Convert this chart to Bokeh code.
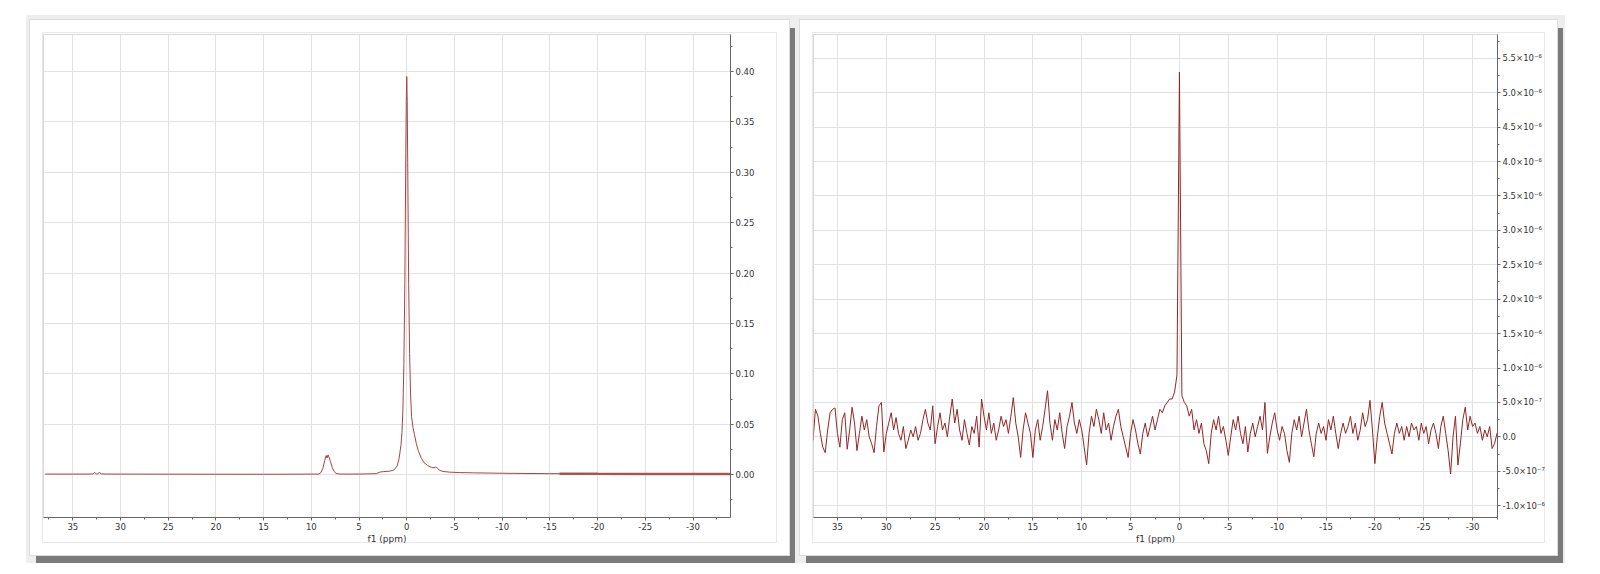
import numpy as np
from bokeh.plotting import figure
from bokeh.models import Range1d, FixedTicker, CustomJSTickFormatter, Row
from bokeh.embed import file_html
from bokeh.resources import INLINE

# ---------------- data ----------------
# Left spectrum (f1 ppm, intensity)
left_ppm = [37.9, 33.5, 32.9, 32.7, 32.55, 32.4, 32.2, 32.0, 31.5, 25.0, 15.0,
            9.2, 9.0, 8.8, 8.6, 8.45, 8.35, 8.25, 8.15, 8.0, 7.8, 7.6, 7.4, 7.0,
            5.0, 3.2, 2.9, 2.7, 2.4, 1.8, 1.4, 1.2, 1.0, 0.8, 0.6, 0.5, 0.4, 0.3,
            0.2, 0.1, 0.05, 0.0,
            -0.05, -0.1, -0.2, -0.3, -0.4, -0.5, -0.65, -0.8, -1.0, -1.2, -1.5,
            -1.8, -2.2, -2.6, -2.85, -3.0, -3.15, -3.4, -3.8, -4.5, -5.5, -7.0,
            -10.0, -15.0, -16.0, -20.0, -25.0, -33.9]
left_int = [0.0006, 0.0006, 0.0007, 0.0022, 0.0008, 0.0009, 0.0022, 0.0008, 0.0006, 0.0005, 0.0004,
            0.0006, 0.002, 0.006, 0.014, 0.019, 0.0165, 0.0196, 0.0175, 0.013, 0.007, 0.003, 0.0012, 0.0006,
            0.0006, 0.001, 0.0022, 0.0028, 0.003, 0.0035, 0.0045, 0.006, 0.009, 0.016, 0.03, 0.042, 0.065, 0.11,
            0.19, 0.32, 0.37, 0.395,
            0.37, 0.31, 0.19, 0.12, 0.08, 0.058, 0.047, 0.04, 0.031, 0.024, 0.017,
            0.012, 0.009, 0.0072, 0.0068, 0.0075, 0.0072, 0.0045, 0.0032, 0.0025, 0.0021, 0.0018,
            0.0014, 0.001, 0.001, 0.0008, 0.0007, 0.0006]

# Right spectrum: intensity in units of 1e-7, sampled every 0.25 ppm from 38.0 ppm downwards
right_start_ppm = 38.0
right_step_ppm = 0.25
right_int_e7 = [
    # 38.0 .. 33.25
    -1.0, 1.5, -0.5, 4.0, 3.0, 0.5, -1.5, -2.3, 1.0, 3.5, 4.0, 4.2, 0.5, -1.5, 2.5, 3.5, -1.8, 1.0, 4.3, 2.0,
    # 33.0 .. 28.25
    -2.0, 0.5, 3.0, 1.0, 2.5, 0.0, -1.0, -2.3, 1.5, 4.5, 5.0, -2.2, 0.5, 2.0, 3.5, 1.0, 2.8, 0.5, -0.5, 1.5,
    # 28.0 .. 23.25
    -1.7, -0.5, 1.0, 0.0, 1.5, -0.5, 0.5, 2.5, 4.0, 2.0, 1.0, 4.5, -1.0, 1.5, 3.5, 1.0, 2.0, 0.0, 3.0, 5.5,
    # 23.0 .. 18.25
    2.0, 4.0, 1.0, -0.5, 2.5, 0.5, -1.2, 1.5, 0.5, 3.0, -1.5, 5.5, 3.0, 1.0, 3.5, 0.5, 2.0, -0.5, 1.0, 3.0,
    # 18.0 .. 13.25
    1.5, 2.5, 0.5, 3.0, 5.7, 2.0, 0.0, -3.0, 1.0, 3.5, 2.0, 0.5, -3.0, 1.0, 2.5, -0.5, 1.5, 4.0, 6.7, 2.0,
    # 13.0 .. 8.25
    -0.5, 2.5, 1.0, 3.5, 0.5, -1.7, 1.5, 3.0, 5.0, 2.0, 0.5, 2.5, 1.0, -1.5, -4.1, 0.5, 3.0, 1.5, 4.0, 2.5,
    # 8.0 .. 3.25
    0.5, 3.5, 1.0, 2.0, -0.5, 1.5, 3.0, 4.0, 1.5, 0.0, -1.5, -3.0, 0.5, 2.5, 1.0, -1.0, -2.5, 0.5, 2.0, 0.0,
    # 3.0 .. -1.75
    1.5, 3.0, 1.0, 2.5, 4.0, 3.5, 4.5, 5.0, 5.5, 5.5, 6.5, 9.0, 53.0, 6.0, 5.0, 4.5, 3.0, 4.0, 1.0, 2.5,
    # -2.0 .. -6.75
    0.5, 2.0, -1.0, -2.0, -3.9, 0.5, 2.5, 1.0, 3.0, 0.5, 1.5, -0.5, -2.7, 0.0, 2.5, 1.0, 3.0, 0.5, -1.0, 1.5,
    # -7.0 .. -11.75
    -2.2, 0.5, 2.0, 0.0, 1.5, 3.0, 1.0, 5.0, -2.4, 0.0, 2.0, 3.5, 1.0, -0.5, 1.5, 0.5, -2.0, -3.7, 0.5, 2.5,
    # -12.0 .. -16.75
    1.0, 3.0, 0.0, 2.0, 4.0, 1.0, -1.0, -2.9, 0.5, 2.0, 0.5, 1.5, -0.5, 2.5, 1.0, 3.0, 0.5, -1.7, 0.5, 2.0,
    # -17.0 .. -21.75
    0.5, 1.5, 3.0, 0.5, 2.0, -0.5, 1.0, 3.5, 1.5, 2.5, 5.3, 1.0, -3.9, 0.0, 3.0, 5.0, 2.0, 0.5, -1.0, -2.5,
    # -22.0 .. -26.75
    0.5, 2.0, 0.5, 1.5, -0.5, 1.5, 0.0, 2.0, 1.0, 1.5, -0.5, 2.0, 0.5, 1.5, -1.0, 1.0, 2.0, 0.5, -1.7, 1.5,
    # -27.0 .. -31.75
    3.0, 0.5, -2.0, -5.4, 0.0, 3.0, -4.1, -1.0, 2.5, 4.3, 1.0, 3.0, 1.5, 2.0, 0.5, 1.5, -0.5, 1.0, 0.0, 1.5,
    # -32.0 .. -32.75
    -1.7, -1.0, 0.5, -0.5,
]
right_ppm = [round(right_start_ppm - right_step_ppm * i, 2) for i in range(len(right_int_e7))]
right_int = [v * 1e-7 for v in right_int_e7]

# ticks / labels
x_tick_vals = [35, 30, 25, 20, 15, 10, 5, 0, -5, -10, -15, -20, -25, -30]
x_tick_labels = ["35", "30", "25", "20", "15", "10", "5", "0", "-5", "-10", "-15", "-20", "-25", "-30"]
x_minor_vals = [37.5, 32.5, 27.5, 22.5, 17.5, 12.5, 7.5, 2.5, -2.5, -7.5, -12.5, -17.5, -22.5, -27.5, -32.5]

left_y_vals = [0.00, 0.05, 0.10, 0.15, 0.20, 0.25, 0.30, 0.35, 0.40]
left_y_labels = ["0.00", "0.05", "0.10", "0.15", "0.20", "0.25", "0.30", "0.35", "0.40"]
left_y_minor = [-0.025, 0.025, 0.075, 0.125, 0.175, 0.225, 0.275, 0.325, 0.375, 0.425]

right_y_vals = [-1.0e-6, -5.0e-7, 0.0, 5.0e-7, 1.0e-6, 1.5e-6, 2.0e-6, 2.5e-6, 3.0e-6,
                3.5e-6, 4.0e-6, 4.5e-6, 5.0e-6, 5.5e-6]
right_y_labels = ["-1.0×10⁻⁶", "-5.0×10⁻⁷", "0.0", "5.0×10⁻⁷", "1.0×10⁻⁶", "1.5×10⁻⁶",
                  "2.0×10⁻⁶", "2.5×10⁻⁶", "3.0×10⁻⁶", "3.5×10⁻⁶", "4.0×10⁻⁶", "4.5×10⁻⁶",
                  "5.0×10⁻⁶", "5.5×10⁻⁶"]
right_y_minor = [-1.25e-6, -7.5e-7, -2.5e-7, 2.5e-7, 7.5e-7, 1.25e-6, 1.75e-6, 2.25e-6, 2.75e-6,
                 3.25e-6, 3.75e-6, 4.25e-6, 4.75e-6, 5.25e-6, 5.75e-6]

LINE_LEFT = "#a84444"
LINE_RIGHT = "#922626"
FONT = "DejaVu Sans"


def lookup_formatter(vals, labels):
    return CustomJSTickFormatter(
        args=dict(vals=vals, labels=labels),
        code="""
        for (let i = 0; i < vals.length; i++) {
            if (Math.abs(vals[i] - tick) <= Math.abs(vals[i]) * 1e-6 + 1e-15) return labels[i];
        }
        return "";
        """)


def make_fig(w, h, xr, yr, bl, br, bt, bb, yvals, ylabels, yminor):
    p = figure(width=w, height=h, x_range=Range1d(*xr), y_range=Range1d(*yr),
               output_backend="svg", toolbar_location=None, y_axis_location="right",
               min_border_left=bl, min_border_right=br, min_border_top=bt, min_border_bottom=bb)
    p.background_fill_color = "white"
    p.border_fill_color = None
    p.outline_line_color = "#d8d8d8"
    p.grid.grid_line_color = "#e2e2e2"
    p.grid.grid_line_width = 1

    xa = p.xaxis[0]
    xa.ticker = FixedTicker(ticks=x_tick_vals, minor_ticks=x_minor_vals)
    xa.formatter = lookup_formatter(x_tick_vals, x_tick_labels)
    xa.axis_label = "f1 (ppm)"
    xa.axis_label_text_font = FONT
    xa.axis_label_text_font_size = "9px"
    xa.axis_label_text_font_style = "normal"
    xa.axis_label_text_color = "#333333"
    xa.axis_label_standoff = 1

    ya = p.yaxis[0]
    ya.ticker = FixedTicker(ticks=yvals, minor_ticks=yminor)
    ya.formatter = lookup_formatter(yvals, ylabels)

    for ax in (xa, ya):
        ax.axis_line_color = "#666666"
        ax.major_tick_line_color = "#666666"
        ax.minor_tick_line_color = "#666666"
        ax.major_tick_in = 0
        ax.major_tick_out = 3
        ax.minor_tick_in = 0
        ax.minor_tick_out = 2
        ax.major_label_text_font = FONT
        ax.major_label_text_font_size = "8.5px"
        ax.major_label_text_color = "#333333"
        ax.major_label_standoff = 2
    return p


p1 = make_fig(759, 535, (38.07, -33.93), (-0.0425, 0.4368), 13, 59, 12, 37,
              left_y_vals, left_y_labels, left_y_minor)
p1.line(left_ppm, left_int, line_color=LINE_LEFT, line_width=1)
band_x = [x for x in left_ppm if x <= -16.0]
band_y = [y for x, y in zip(left_ppm, left_int) if x <= -16.0]
p1.line(band_x, band_y, line_color=LINE_LEFT, line_width=2.5, line_alpha=0.85)

p2 = make_fig(757, 535, (37.45, -32.55), (-1.172e-6, 5.846e-6), 13, 60, 14, 38,
              right_y_vals, right_y_labels, right_y_minor)
p2.line(right_ppm, right_int, line_color=LINE_RIGHT, line_width=1)

panel_style = {"background-color": "#ffffff",
               "box-shadow": "inset 0 0 0 12px #ffffff, inset 0 0 0 13px #e8e8e8, "
                             "0 0 0 1px #dcdcdc, 6px 8px 0 0 #7a7a7a"}
p1.styles = panel_style
p2.styles = panel_style

layout = Row(children=[p1, p2], spacing=11,
             styles={"background-color": "#eeeeee",
                     "padding": "5px 8px 8px 4px",
                     "margin": "15px 0 0 26px"})

with open("out.html", "w") as f:
    f.write(file_html(layout, INLINE))
